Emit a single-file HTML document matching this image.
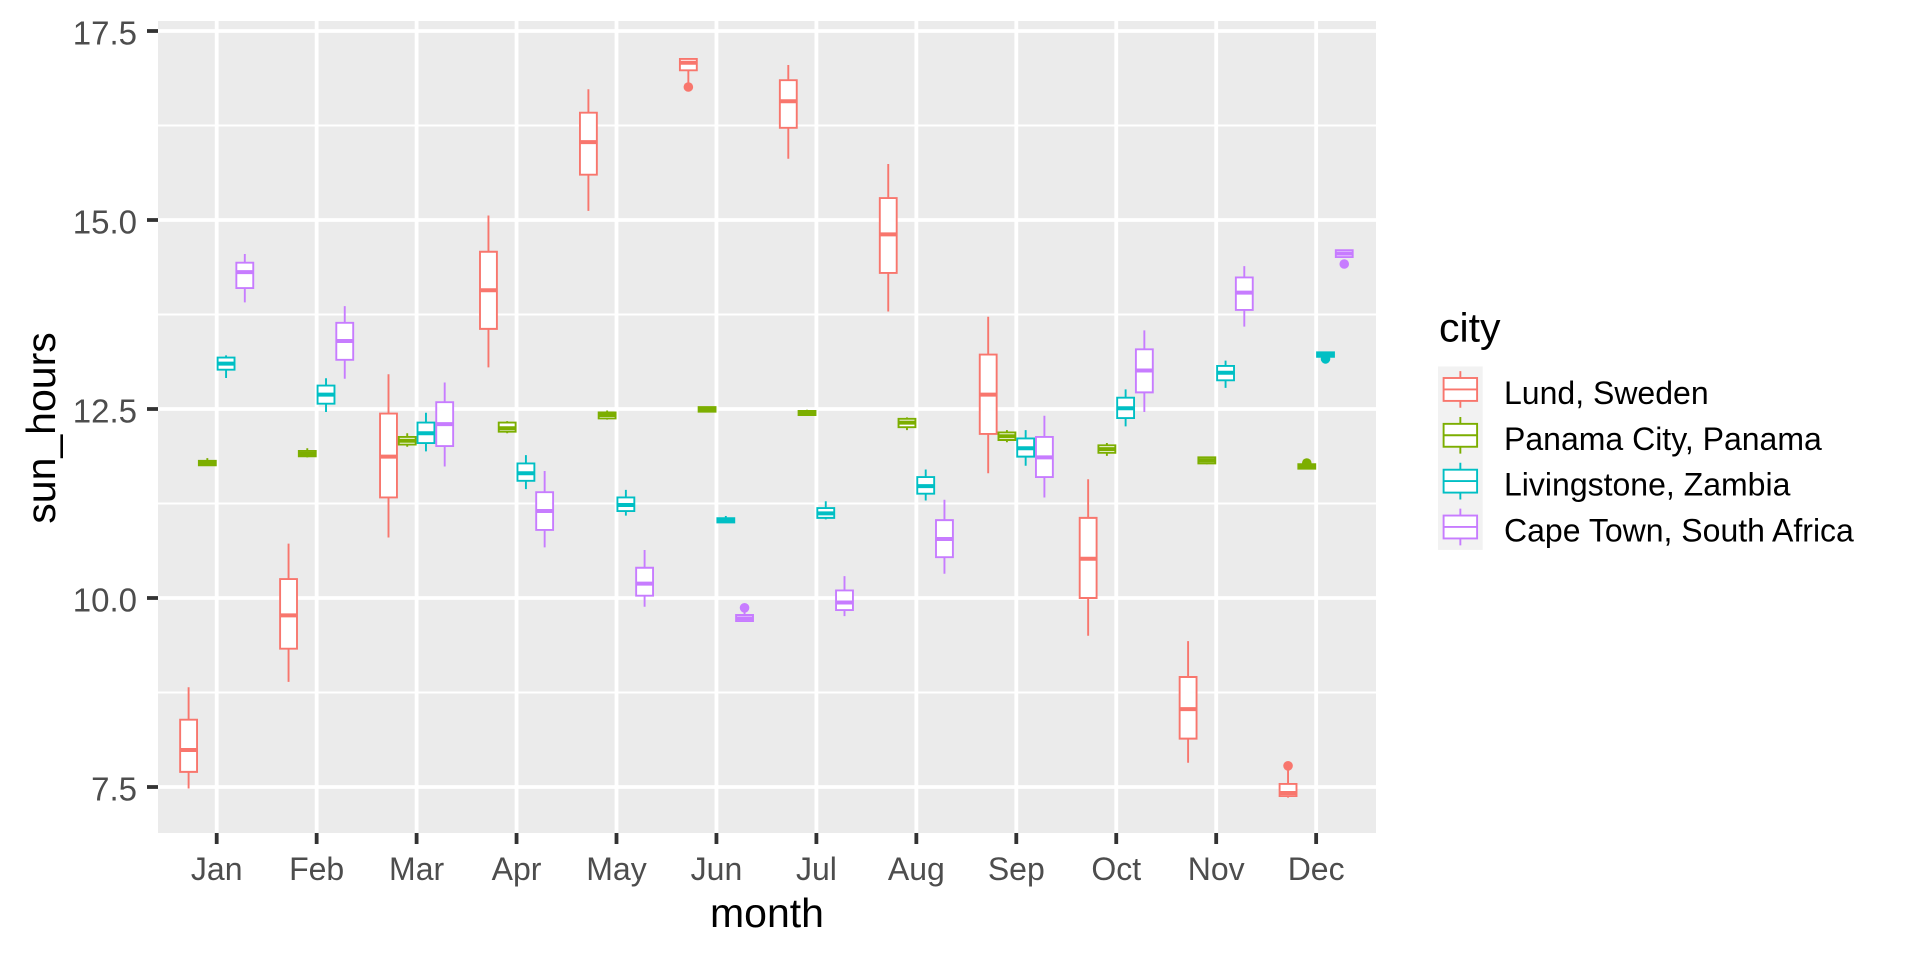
<!DOCTYPE html>
<html><head><meta charset="utf-8"><style>
html,body{margin:0;padding:0;background:#fff;}
svg{display:block;}
.d *{vector-effect:non-scaling-stroke;}
.d path{fill:none;stroke-width:1.9;}
.d rect{fill:#fff;stroke-width:1.9;}
.d path.m{stroke-width:4;}
.L{stroke:#F8766D;} .P{stroke:#7CAE00;} .V{stroke:#00BFC4;} .C{stroke:#C77CFF;}
text{font-family:"Liberation Sans",Arial,sans-serif;}
</style></head><body>
<svg width="1920" height="960" viewBox="0 0 1920 960" xmlns="http://www.w3.org/2000/svg">
<rect x="0" y="0" width="1920" height="960" fill="#fff"/>
<rect x="158" y="21" width="1218" height="812" fill="#EBEBEB"/>
<g stroke="#fff" stroke-width="1.9">
<line x1="158" x2="1376" y1="692.5" y2="692.5"/><line x1="158" x2="1376" y1="503.5" y2="503.5"/><line x1="158" x2="1376" y1="314.5" y2="314.5"/><line x1="158" x2="1376" y1="125.5" y2="125.5"/>
</g>
<g stroke="#fff" stroke-width="3.8">
<line x1="158" x2="1376" y1="787" y2="787"/><line x1="158" x2="1376" y1="598" y2="598"/><line x1="158" x2="1376" y1="409" y2="409"/><line x1="158" x2="1376" y1="220" y2="220"/><line x1="158" x2="1376" y1="31" y2="31"/>
<line x1="216.7" x2="216.7" y1="21" y2="833"/><line x1="316.65" x2="316.65" y1="21" y2="833"/><line x1="416.6" x2="416.6" y1="21" y2="833"/><line x1="516.55" x2="516.55" y1="21" y2="833"/><line x1="616.5" x2="616.5" y1="21" y2="833"/><line x1="716.45" x2="716.45" y1="21" y2="833"/><line x1="816.4" x2="816.4" y1="21" y2="833"/><line x1="916.35" x2="916.35" y1="21" y2="833"/><line x1="1016.3" x2="1016.3" y1="21" y2="833"/><line x1="1116.25" x2="1116.25" y1="21" y2="833"/><line x1="1216.2" x2="1216.2" y1="21" y2="833"/><line x1="1316.15" x2="1316.15" y1="21" y2="833"/>
</g>

<g class="d" transform="matrix(1,0,0,-75.6,0,1354)">
<!-- Jan -->
<g transform="translate(216.7,0)">
<g class="L"><path d="M-28.1 7.48V7.70M-28.1 8.39V8.82"/><rect x="-36.55" y="7.70" width="16.9" height="0.69"/><path class="m" d="M-36.55 7.99h16.9"/></g>
<g class="P"><path d="M-9.37 11.75V11.755M-9.37 11.815V11.85"/><rect x="-17.82" y="11.755" width="16.9" height="0.06"/><path class="m" d="M-17.82 11.785h16.9"/></g>
<g class="V"><path d="M9.37 12.91V13.02M9.37 13.18V13.21"/><rect x="0.92" y="13.02" width="16.9" height="0.16"/><path class="m" d="M0.92 13.10h16.9"/></g>
<g class="C"><path d="M28.1 13.91V14.10M28.1 14.435V14.55"/><rect x="19.65" y="14.10" width="16.9" height="0.335"/><path class="m" d="M19.65 14.31h16.9"/></g>
</g>
<!-- Feb -->
<g transform="translate(316.65,0)">
<g class="L"><path d="M-28.1 8.89V9.33M-28.1 10.25V10.72"/><rect x="-36.55" y="9.33" width="16.9" height="0.92"/><path class="m" d="M-36.55 9.77h16.9"/></g>
<g class="P"><path d="M-9.37 11.86V11.875M-9.37 11.945V11.98"/><rect x="-17.82" y="11.875" width="16.9" height="0.07"/><path class="m" d="M-17.82 11.91h16.9"/></g>
<g class="V"><path d="M9.37 12.46V12.57M9.37 12.81V12.906"/><rect x="0.92" y="12.57" width="16.9" height="0.24"/><path class="m" d="M0.92 12.69h16.9"/></g>
<g class="C"><path d="M28.1 12.90V13.15M28.1 13.64V13.86"/><rect x="19.65" y="13.15" width="16.9" height="0.49"/><path class="m" d="M19.65 13.40h16.9"/></g>
</g>
<!-- Mar -->
<g transform="translate(416.6,0)">
<g class="L"><path d="M-28.1 10.80V11.33M-28.1 12.44V12.96"/><rect x="-36.55" y="11.33" width="16.9" height="1.11"/><path class="m" d="M-36.55 11.87h16.9"/></g>
<g class="P"><path d="M-9.37 12.0V12.03M-9.37 12.13V12.18"/><rect x="-17.82" y="12.03" width="16.9" height="0.10"/><path class="m" d="M-17.82 12.08h16.9"/></g>
<g class="V"><path d="M9.37 11.94V12.05M9.37 12.32V12.45"/><rect x="0.92" y="12.05" width="16.9" height="0.27"/><path class="m" d="M0.92 12.18h16.9"/></g>
<g class="C"><path d="M28.1 11.74V12.01M28.1 12.59V12.85"/><rect x="19.65" y="12.01" width="16.9" height="0.58"/><path class="m" d="M19.65 12.30h16.9"/></g>
</g>
<!-- Apr -->
<g transform="translate(516.55,0)">
<g class="L"><path d="M-28.1 13.05V13.56M-28.1 14.58V15.06"/><rect x="-36.55" y="13.56" width="16.9" height="1.02"/><path class="m" d="M-36.55 14.07h16.9"/></g>
<g class="P"><path d="M-9.37 12.18V12.20M-9.37 12.32V12.34"/><rect x="-17.82" y="12.20" width="16.9" height="0.12"/><path class="m" d="M-17.82 12.245h16.9"/></g>
<g class="V"><path d="M9.37 11.44V11.55M9.37 11.78V11.89"/><rect x="0.92" y="11.55" width="16.9" height="0.23"/><path class="m" d="M0.92 11.65h16.9"/></g>
<g class="C"><path d="M28.1 10.67V10.90M28.1 11.40V11.68"/><rect x="19.65" y="10.90" width="16.9" height="0.50"/><path class="m" d="M19.65 11.15h16.9"/></g>
</g>
<!-- May -->
<g transform="translate(616.5,0)">
<g class="L"><path d="M-28.1 15.12V15.60M-28.1 16.42V16.73"/><rect x="-36.55" y="15.60" width="16.9" height="0.82"/><path class="m" d="M-36.55 16.03h16.9"/></g>
<g class="P"><path d="M-9.37 12.36V12.375M-9.37 12.455V12.48"/><rect x="-17.82" y="12.375" width="16.9" height="0.08"/><path class="m" d="M-17.82 12.42h16.9"/></g>
<g class="V"><path d="M9.37 11.09V11.15M9.37 11.33V11.43"/><rect x="0.92" y="11.15" width="16.9" height="0.18"/><path class="m" d="M0.92 11.23h16.9"/></g>
<g class="C"><path d="M28.1 9.885V10.03M28.1 10.40V10.635"/><rect x="19.65" y="10.03" width="16.9" height="0.37"/><path class="m" d="M19.65 10.19h16.9"/></g>
</g>
<!-- Jun -->
<g transform="translate(716.45,0)">
<g class="L"><path d="M-28.1 16.80V16.98M-28.1 17.13V17.14"/><rect x="-36.55" y="16.98" width="16.9" height="0.15"/><path class="m" d="M-36.55 17.08h16.9"/></g>
<g class="P"><path d="M-9.37 12.46V12.465M-9.37 12.525V12.53"/><rect x="-17.82" y="12.465" width="16.9" height="0.06"/><path class="m" d="M-17.82 12.49h16.9"/></g>
<g class="V"><path d="M9.37 11.0V11.0M9.37 11.055V11.085"/><rect x="0.92" y="11.0" width="16.9" height="0.055"/><path class="m" d="M0.92 11.03h16.9"/></g>
<g class="C"><path d="M28.1 9.69V9.695M28.1 9.775V9.84"/><rect x="19.65" y="9.695" width="16.9" height="0.08"/><path class="m" d="M19.65 9.73h16.9"/></g>
</g>
<!-- Jul -->
<g transform="translate(816.4,0)">
<g class="L"><path d="M-28.1 15.81V16.22M-28.1 16.85V17.05"/><rect x="-36.55" y="16.22" width="16.9" height="0.63"/><path class="m" d="M-36.55 16.57h16.9"/></g>
<g class="P"><path d="M-9.37 12.41V12.42M-9.37 12.475V12.49"/><rect x="-17.82" y="12.42" width="16.9" height="0.055"/><path class="m" d="M-17.82 12.45h16.9"/></g>
<g class="V"><path d="M9.37 11.04V11.06M9.37 11.19V11.28"/><rect x="0.92" y="11.06" width="16.9" height="0.13"/><path class="m" d="M0.92 11.12h16.9"/></g>
<g class="C"><path d="M28.1 9.76V9.84M28.1 10.10V10.29"/><rect x="19.65" y="9.84" width="16.9" height="0.26"/><path class="m" d="M19.65 9.94h16.9"/></g>
</g>
<!-- Aug -->
<g transform="translate(916.35,0)">
<g class="L"><path d="M-28.1 13.79V14.30M-28.1 15.29V15.74"/><rect x="-36.55" y="14.30" width="16.9" height="0.99"/><path class="m" d="M-36.55 14.81h16.9"/></g>
<g class="P"><path d="M-9.37 12.22V12.26M-9.37 12.37V12.39"/><rect x="-17.82" y="12.26" width="16.9" height="0.11"/><path class="m" d="M-17.82 12.32h16.9"/></g>
<g class="V"><path d="M9.37 11.29V11.38M9.37 11.60V11.70"/><rect x="0.92" y="11.38" width="16.9" height="0.22"/><path class="m" d="M0.92 11.48h16.9"/></g>
<g class="C"><path d="M28.1 10.32V10.54M28.1 11.03V11.30"/><rect x="19.65" y="10.54" width="16.9" height="0.49"/><path class="m" d="M19.65 10.78h16.9"/></g>
</g>
<!-- Sep -->
<g transform="translate(1016.3,0)">
<g class="L"><path d="M-28.1 11.65V12.17M-28.1 13.22V13.72"/><rect x="-36.55" y="12.17" width="16.9" height="1.05"/><path class="m" d="M-36.55 12.69h16.9"/></g>
<g class="P"><path d="M-9.37 12.06V12.09M-9.37 12.19V12.22"/><rect x="-17.82" y="12.09" width="16.9" height="0.10"/><path class="m" d="M-17.82 12.14h16.9"/></g>
<g class="V"><path d="M9.37 11.75V11.87M9.37 12.11V12.22"/><rect x="0.92" y="11.87" width="16.9" height="0.24"/><path class="m" d="M0.92 11.98h16.9"/></g>
<g class="C"><path d="M28.1 11.33V11.60M28.1 12.13V12.41"/><rect x="19.65" y="11.60" width="16.9" height="0.53"/><path class="m" d="M19.65 11.86h16.9"/></g>
</g>
<!-- Oct -->
<g transform="translate(1116.25,0)">
<g class="L"><path d="M-28.1 9.50V10.0M-28.1 11.06V11.57"/><rect x="-36.55" y="10.0" width="16.9" height="1.06"/><path class="m" d="M-36.55 10.52h16.9"/></g>
<g class="P"><path d="M-9.37 11.88V11.92M-9.37 12.02V12.05"/><rect x="-17.82" y="11.92" width="16.9" height="0.10"/><path class="m" d="M-17.82 11.97h16.9"/></g>
<g class="V"><path d="M9.37 12.27V12.38M9.37 12.65V12.76"/><rect x="0.92" y="12.38" width="16.9" height="0.27"/><path class="m" d="M0.92 12.51h16.9"/></g>
<g class="C"><path d="M28.1 12.46V12.72M28.1 13.29V13.54"/><rect x="19.65" y="12.72" width="16.9" height="0.57"/><path class="m" d="M19.65 13.01h16.9"/></g>
</g>
<!-- Nov -->
<g transform="translate(1216.2,0)">
<g class="L"><path d="M-28.1 7.82V8.14M-28.1 8.955V9.43"/><rect x="-36.55" y="8.14" width="16.9" height="0.815"/><path class="m" d="M-36.55 8.53h16.9"/></g>
<g class="P"><path d="M-9.37 11.77V11.78M-9.37 11.86V11.87"/><rect x="-17.82" y="11.78" width="16.9" height="0.08"/><path class="m" d="M-17.82 11.82h16.9"/></g>
<g class="V"><path d="M9.37 12.78V12.88M9.37 13.07V13.14"/><rect x="0.92" y="12.88" width="16.9" height="0.19"/><path class="m" d="M0.92 12.98h16.9"/></g>
<g class="C"><path d="M28.1 13.59V13.81M28.1 14.24V14.39"/><rect x="19.65" y="13.81" width="16.9" height="0.43"/><path class="m" d="M19.65 14.04h16.9"/></g>
</g>
<!-- Dec -->
<g transform="translate(1316.15,0)">
<g class="L"><path d="M-28.1 7.36V7.38M-28.1 7.54V7.72"/><rect x="-36.55" y="7.38" width="16.9" height="0.16"/><path class="m" d="M-36.55 7.42h16.9"/></g>
<g class="P"><path d="M-9.37 11.70V11.71"/><rect x="-17.82" y="11.71" width="16.9" height="0.06"/><path class="m" d="M-17.82 11.74h16.9"/></g>
<g class="V"><rect x="0.92" y="13.19" width="16.9" height="0.06"/><path class="m" d="M0.92 13.215h16.9"/></g>
<g class="C"><rect x="19.65" y="14.51" width="16.9" height="0.09"/><path class="m" d="M19.65 14.555h16.9"/></g>
</g>
</g>

<!-- outliers -->
<circle cx="688.35" cy="87" r="4.8" fill="#F8766D"/>
<circle cx="744.55" cy="607.8" r="4.8" fill="#C77CFF"/>
<circle cx="1288.05" cy="765.8" r="4.8" fill="#F8766D"/>
<circle cx="1306.78" cy="463" r="4.8" fill="#7CAE00"/>
<circle cx="1325.52" cy="358.9" r="4.8" fill="#00BFC4"/>
<circle cx="1344.25" cy="264" r="4.8" fill="#C77CFF"/>

<!-- axis ticks -->
<g stroke="#333333" stroke-width="3.8">
<line x1="147" x2="158" y1="787" y2="787"/><line x1="147" x2="158" y1="598" y2="598"/><line x1="147" x2="158" y1="409" y2="409"/><line x1="147" x2="158" y1="220" y2="220"/><line x1="147" x2="158" y1="31" y2="31"/>
<line x1="216.7" x2="216.7" y1="833" y2="844"/><line x1="316.65" x2="316.65" y1="833" y2="844"/><line x1="416.6" x2="416.6" y1="833" y2="844"/><line x1="516.55" x2="516.55" y1="833" y2="844"/><line x1="616.5" x2="616.5" y1="833" y2="844"/><line x1="716.45" x2="716.45" y1="833" y2="844"/><line x1="816.4" x2="816.4" y1="833" y2="844"/><line x1="916.35" x2="916.35" y1="833" y2="844"/><line x1="1016.3" x2="1016.3" y1="833" y2="844"/><line x1="1116.25" x2="1116.25" y1="833" y2="844"/><line x1="1216.2" x2="1216.2" y1="833" y2="844"/><line x1="1316.15" x2="1316.15" y1="833" y2="844"/>
</g>

<!-- y tick labels -->
<g fill="#4D4D4D" font-size="33" text-anchor="end">
<text x="137" y="800.5">7.5</text>
<text x="137" y="611.5">10.0</text>
<text x="137" y="422.5">12.5</text>
<text x="137" y="233.5">15.0</text>
<text x="137" y="44.5">17.5</text>
</g>
<!-- x tick labels -->
<g fill="#4D4D4D" font-size="32" text-anchor="middle">
<text x="216.7" y="880">Jan</text><text x="316.65" y="880">Feb</text><text x="416.6" y="880">Mar</text><text x="516.55" y="880">Apr</text><text x="616.5" y="880">May</text><text x="716.45" y="880">Jun</text><text x="816.4" y="880">Jul</text><text x="916.35" y="880">Aug</text><text x="1016.3" y="880">Sep</text><text x="1116.25" y="880">Oct</text><text x="1216.2" y="880">Nov</text><text x="1316.15" y="880">Dec</text>
</g>
<!-- axis titles -->
<text x="767" y="927" font-size="41" text-anchor="middle" fill="#000">month</text>
<text transform="translate(55,428) rotate(-90)" x="0" y="0" font-size="41" text-anchor="middle" fill="#000">sun_hours</text>

<!-- legend -->
<text x="1439" y="341.5" font-size="41" fill="#000">city</text>
<rect x="1438" y="366.5" width="44.7" height="183.4" fill="#F2F2F2"/>
<g fill="none" stroke-width="1.9">
<g stroke="#F8766D"><path d="M1460.35 371.1V378M1460.35 400.9V407.8"/><rect x="1443.6" y="378" width="33.5" height="22.9" fill="#fff"/><path d="M1443.6 389.4H1477.1"/></g>
<g stroke="#7CAE00"><path d="M1460.35 416.95V423.85M1460.35 446.75V453.65"/><rect x="1443.6" y="423.85" width="33.5" height="22.9" fill="#fff"/><path d="M1443.6 435.25H1477.1"/></g>
<g stroke="#00BFC4"><path d="M1460.35 462.8V469.7M1460.35 492.6V499.5"/><rect x="1443.6" y="469.7" width="33.5" height="22.9" fill="#fff"/><path d="M1443.6 481.1H1477.1"/></g>
<g stroke="#C77CFF"><path d="M1460.35 508.65V515.55M1460.35 538.45V545.35"/><rect x="1443.6" y="515.55" width="33.5" height="22.9" fill="#fff"/><path d="M1443.6 526.95H1477.1"/></g>
</g>
<g fill="#000" font-size="32">
<text x="1504" y="404">Lund, Sweden</text>
<text x="1504" y="449.8">Panama City, Panama</text>
<text x="1504" y="495.6">Livingstone, Zambia</text>
<text x="1504" y="541.4">Cape Town, South Africa</text>
</g>
</svg>
</body></html>
